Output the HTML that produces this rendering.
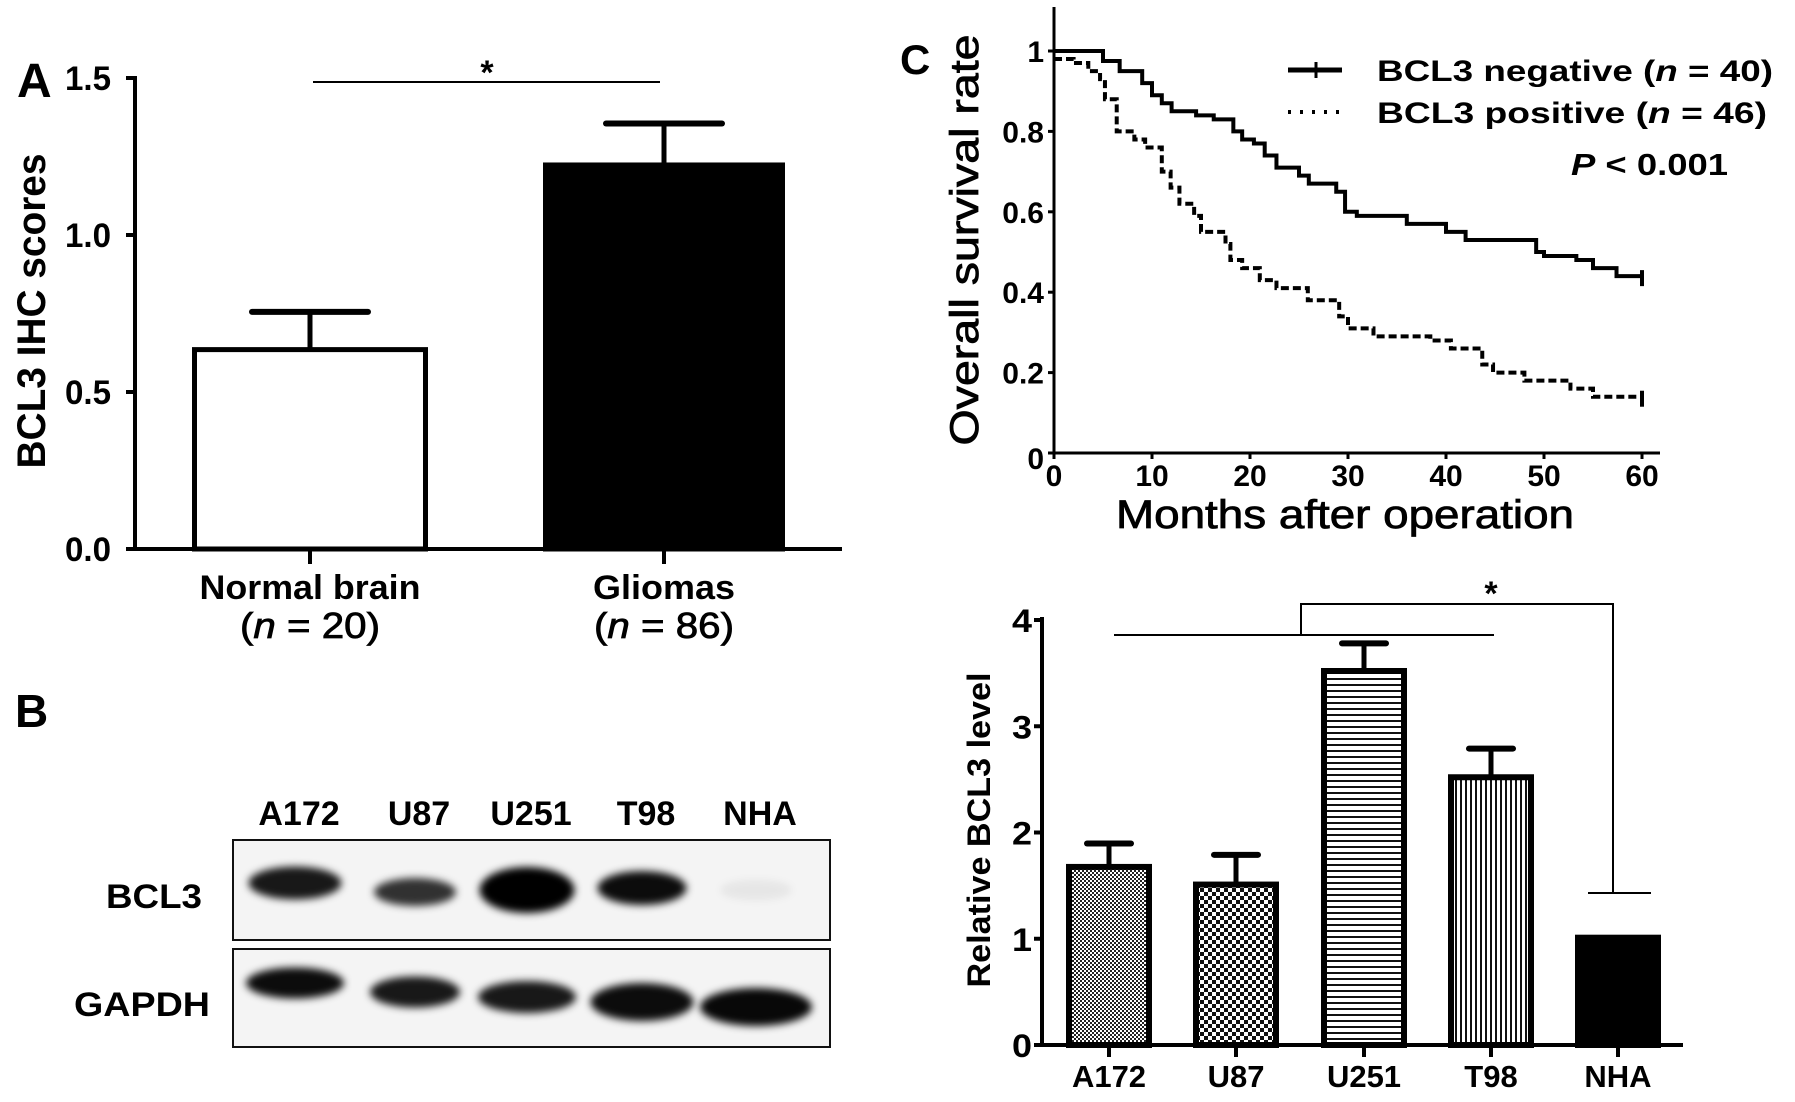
<!DOCTYPE html>
<html><head><meta charset="utf-8">
<style>
html,body{margin:0;padding:0;background:#fff;}
svg{display:block;font-family:"Liberation Sans",Arial,sans-serif;}
</style></head>
<body>
<svg id="fig" width="1795" height="1102" viewBox="0 0 1795 1102" xmlns="http://www.w3.org/2000/svg">
<defs>
<pattern id="pA" width="4" height="4" patternUnits="userSpaceOnUse"><rect width="4" height="4" fill="#fff"/><rect width="2" height="2" fill="#222"/><rect x="2" y="2" width="2" height="2" fill="#222"/></pattern>
<pattern id="pU" width="8" height="8" patternUnits="userSpaceOnUse"><rect width="8" height="8" fill="#fff"/><rect width="4" height="4" fill="#111"/><rect x="4" y="4" width="4" height="4" fill="#111"/></pattern>
<pattern id="pH" width="6" height="6" patternUnits="userSpaceOnUse"><rect width="6" height="6" fill="#fff"/><rect width="6" height="2" fill="#111"/></pattern>
<pattern id="pV" width="5" height="5" patternUnits="userSpaceOnUse"><rect width="5" height="5" fill="#fff"/><rect width="2" height="5" fill="#111"/></pattern>
<filter id="blur" x="-20%" y="-50%" width="140%" height="200%"><feGaussianBlur stdDeviation="4"/></filter>
</defs>
<g id="panelA"></g>
<g id="panelB"></g>
<g id="panelC"></g>
<g id="panelD"></g>
</svg>
<script>
// ---------- Panel A data ----------
const aCategories = ["Normal brain", "Gliomas"];
const aSubLabels = ["20", "86"];
const aValues = [0.635, 1.223];
const aErrors = [0.12, 0.132];
const aTicks = [0.0, 0.5, 1.0, 1.5];
const aTickLabels = ["0.0", "0.5", "1.0", "1.5"];

// ---------- Panel B data ----------
const bLanes = ["A172", "U87", "U251", "T98", "NHA"];
const bBcl3Intensity = [0.9, 0.8, 1.0, 0.95, 0.06];
const bGapdhIntensity = [0.95, 0.9, 0.9, 0.95, 0.97];

// ---------- Panel C data ----------
const cNegTimes = [0,5,6.7,9,10,11,12,14.5,16.3,18.3,19.2,20.4,21.5,22.7,25,26,28.8,29.7,30.9,36,40,42,49.2,50,53.3,55,57.4];
const cNegSurv  = [1,0.975,0.95,0.92,0.89,0.87,0.85,0.84,0.83,0.80,0.78,0.77,0.74,0.71,0.69,0.67,0.65,0.60,0.59,0.57,0.55,0.53,0.50,0.49,0.48,0.46,0.44];
const cPosTimes = [0,2,3.5,4.7,5.2,6.4,8.2,9.3,11,11.9,12.8,14.3,15,17.5,18,19.2,21,22.7,25.9,29.1,30,32.6,38.4,40.5,43.7,44.8,48,52.7,55];
const cPosSurv  = [0.98,0.97,0.95,0.93,0.88,0.80,0.78,0.76,0.70,0.66,0.62,0.59,0.55,0.52,0.48,0.46,0.43,0.41,0.38,0.34,0.31,0.29,0.28,0.26,0.22,0.20,0.18,0.16,0.14];
const cXTicks = [0,10,20,30,40,50,60];
const cYTicks = [0,0.2,0.4,0.6,0.8,1];
const cYTickLabels = ["0","0.2","0.4","0.6","0.8","1"];
const cEndMonths = 60;

// ---------- Panel D data ----------
const dCategories = ["A172","U87","U251","T98","NHA"];
const dValues = [1.676, 1.51, 3.52, 2.52, 1.01];
const dErrors = [0.22, 0.28, 0.26, 0.27, 0];
const dFills = ["url(#pA)","url(#pU)","url(#pH)","url(#pV)","#000"];
const dTicks = [0,1,2,3,4];

const NS = "http://www.w3.org/2000/svg";
function mk(parent, tag, attrs, text){
  const e = document.createElementNS(NS, tag);
  for (const k in attrs) e.setAttribute(k, attrs[k]);
  if (text !== undefined) e.textContent = text;
  parent.appendChild(e);
  return e;
}

// ================= Panel A =================
(function(){
  const g = document.getElementById('panelA');
  const x0 = 135, y0 = 549, pxPerUnit = 314;
  const yA = v => y0 - v * pxPerUnit;
  const barLeft = [192, 543], barW = [236, 242];
  let t = mk(g,'text',{x:17,y:97,'font-size':48,'font-weight':'bold'},'A');
   
  let l = mk(g,'line',{x1:x0,y1:yA(1.5)-2,x2:x0,y2:y0+2,stroke:'#000','stroke-width':4});
   
  l = mk(g,'line',{x1:x0-2,y1:y0,x2:842,y2:y0,stroke:'#000','stroke-width':4});
   
  aTicks.forEach((v,i)=>{
    const tk = mk(g,'line',{x1:x0-9,y1:yA(v),x2:x0,y2:yA(v),stroke:'#000','stroke-width':4});
     
    const tl = mk(g,'text',{x:111,y:yA(v)+12,'font-size':34,'font-weight':'bold','text-anchor':'end',textLength:46,lengthAdjust:'spacingAndGlyphs'},aTickLabels[i]);
     
  });
  t = mk(g,'text',{x:0,y:0,'font-size':40,'font-weight':'bold','text-anchor':'middle',transform:'translate(45,311) rotate(-90)',textLength:315,lengthAdjust:'spacingAndGlyphs'},'BCL3 IHC scores');
   
  aValues.forEach((v,i)=>{
    const cx = barLeft[i] + barW[i]/2;
    const eb = mk(g,'line',{x1:cx,y1:yA(v),x2:cx,y2:yA(v+aErrors[i]),stroke:'#000','stroke-width':5});
     
    const cap = mk(g,'line',{x1:cx-58,y1:yA(v+aErrors[i]),x2:cx+58,y2:yA(v+aErrors[i]),stroke:'#000','stroke-width':6,'stroke-linecap':'round'});
     
    const r = mk(g,'rect',{x:barLeft[i]+2.5,y:yA(v),width:barW[i]-5,height:y0-yA(v),fill:i===0?'#fff':'#000',stroke:'#000','stroke-width':5});
     
    const tk = mk(g,'line',{x1:cx,y1:y0,x2:cx,y2:564,stroke:'#000','stroke-width':4});
     
    const c1 = mk(g,'text',{x:cx,y:599,'font-size':34,'font-weight':'bold','text-anchor':'middle',textLength:i===0?221:142,lengthAdjust:'spacingAndGlyphs'},aCategories[i]);
     
    const c2 = mk(g,'text',{x:cx,y:638,'font-size':36,'font-weight':'normal','text-anchor':'middle',stroke:'#000','stroke-width':0.8,textLength:i===0?140:140,lengthAdjust:'spacingAndGlyphs'});
     
    c2.innerHTML = '(<tspan font-style="italic">n</tspan> = '+aSubLabels[i]+')';
  });
  l = mk(g,'line',{x1:313,y1:82,x2:660,y2:82,stroke:'#000','stroke-width':2});
   
  t = mk(g,'text',{x:487,y:84,'font-size':34,'font-weight':'bold','text-anchor':'middle'},'*');
   
})();

// ================= Panel B =================
(function(){
  const g = document.getElementById('panelB');
  const laneX = [299, 419, 531, 646, 760];
  const bclW = [93, 82, 95, 89, 71], bclH = [27, 22, 40, 28, 14], bclY = [883, 892, 890, 888, 890];
  const gW = [98, 90, 98, 103, 112], gH = [25, 25, 26, 32, 32], gY = [983, 992, 997, 1002, 1007];
  let t = mk(g,'text',{x:15,y:727,'font-size':46,'font-weight':'bold'},'B');
   
  bLanes.forEach((n,i)=>{
    const tl = mk(g,'text',{x:laneX[i],y:825,'font-size':34,'font-weight':'bold','text-anchor':'middle'},n);
     
  });
  let r = mk(g,'rect',{x:233,y:840,width:597,height:100,fill:'#f4f4f4',stroke:'#111','stroke-width':2});
   
  r = mk(g,'rect',{x:233,y:949,width:597,height:98,fill:'#f4f4f4',stroke:'#111','stroke-width':2});
   
  bLanes.forEach((n,i)=>{
    const e = mk(g,'ellipse',{cx:laneX[i]-4,cy:bclY[i],rx:bclW[i]/2,ry:bclH[i]/2+3,fill:'#000','fill-opacity':bBcl3Intensity[i],filter:'url(#blur)'});
     
    const e2 = mk(g,'ellipse',{cx:laneX[i]-4,cy:gY[i],rx:gW[i]/2,ry:gH[i]/2+3,fill:'#000','fill-opacity':bGapdhIntensity[i],filter:'url(#blur)'});
     
  });
  t = mk(g,'text',{x:202,y:908,'font-size':34,'font-weight':'bold','text-anchor':'end',textLength:96,lengthAdjust:'spacingAndGlyphs'},'BCL3');
   
  t = mk(g,'text',{x:210,y:1016,'font-size':34,'font-weight':'bold','text-anchor':'end',textLength:136,lengthAdjust:'spacingAndGlyphs'},'GAPDH');
   
})();

// ================= Panel C =================
(function(){
  const g = document.getElementById('panelC');
  const x0 = 1054, y0 = 453;
  const xC = m => x0 + m * (1642 - 1054) / 60;
  const yC = s => y0 - s * (453 - 51);
  let t = mk(g,'text',{x:900,y:74,'font-size':42,'font-weight':'bold'},'C');
   
  let l = mk(g,'line',{x1:x0,y1:7,x2:x0,y2:y0+2,stroke:'#000','stroke-width':3});
   
  l = mk(g,'line',{x1:x0-2,y1:y0,x2:1660,y2:y0,stroke:'#000','stroke-width':3});
   
  cYTicks.forEach((v,i)=>{
    const tk = mk(g,'line',{x1:x0-6,y1:yC(v),x2:x0,y2:yC(v),stroke:'#000','stroke-width':3});
     
    const tl = mk(g,'text',{x:1044,y:yC(v)+(i===0?16:11),'font-size':30,'font-weight':'bold','text-anchor':'end'},cYTickLabels[i]);
     
  });
  cXTicks.forEach(v=>{
    const tk = mk(g,'line',{x1:xC(v),y1:y0,x2:xC(v),y2:y0+6,stroke:'#000','stroke-width':3});
     
    const tl = mk(g,'text',{x:xC(v),y:486,'font-size':30,'font-weight':'bold','text-anchor':'middle'},String(v));
     
  });
  t = mk(g,'text',{x:1345,y:528,'font-size':40,'text-anchor':'middle',textLength:458,lengthAdjust:'spacingAndGlyphs','stroke':'#000','stroke-width':0.8},'Months after operation');
   
  t = mk(g,'text',{x:0,y:0,'font-size':40,'text-anchor':'middle',transform:'translate(978,240) rotate(-90)',textLength:411,lengthAdjust:'spacingAndGlyphs','stroke':'#000','stroke-width':0.8},'Overall survival rate');
   
  function stepPath(times, surv){
    let d = 'M'+xC(times[0])+','+yC(surv[0]);
    for (let i=1;i<times.length;i++){
      d += ' H'+xC(times[i])+' V'+yC(surv[i]);
    }
    d += ' H'+xC(cEndMonths);
    return d;
  }
  let p = mk(g,'path',{d:stepPath(cNegTimes,cNegSurv),fill:'none',stroke:'#000','stroke-width':4});
   
  let e = mk(g,'line',{x1:xC(cEndMonths),y1:yC(cNegSurv[cNegSurv.length-1])-6,x2:xC(cEndMonths),y2:yC(cNegSurv[cNegSurv.length-1])+10,stroke:'#000','stroke-width':4});
   
  p = mk(g,'path',{d:stepPath(cPosTimes,cPosSurv),fill:'none',stroke:'#000','stroke-width':4,'stroke-dasharray':'8 4'});
   
  e = mk(g,'line',{x1:xC(cEndMonths),y1:yC(cPosSurv[cPosSurv.length-1])-6,x2:xC(cEndMonths),y2:yC(cPosSurv[cPosSurv.length-1])+10,stroke:'#000','stroke-width':4});
   
  l = mk(g,'line',{x1:1288,y1:70,x2:1342,y2:70,stroke:'#000','stroke-width':5});
   
  l = mk(g,'line',{x1:1316,y1:62,x2:1316,y2:78,stroke:'#000','stroke-width':3});
   
  l = mk(g,'line',{x1:1288,y1:112,x2:1342,y2:112,stroke:'#000','stroke-width':4,'stroke-dasharray':'3 9'});
   
  t = mk(g,'text',{x:1377,y:81,'font-size':30,'font-weight':'bold',textLength:396,lengthAdjust:'spacingAndGlyphs'});
   
  t.innerHTML = 'BCL3 negative (<tspan font-style="italic">n</tspan> = 40)';
  t = mk(g,'text',{x:1377,y:123,'font-size':30,'font-weight':'bold',textLength:390,lengthAdjust:'spacingAndGlyphs'});
   
  t.innerHTML = 'BCL3 positive (<tspan font-style="italic">n</tspan> = 46)';
  t = mk(g,'text',{x:1571,y:175,'font-size':31,'font-weight':'bold',textLength:157,lengthAdjust:'spacingAndGlyphs'});
   
  t.innerHTML = '<tspan font-style="italic">P</tspan> &lt; 0.001';
})();

// ================= Panel D =================
(function(){
  const g = document.getElementById('panelD');
  const x0 = 1042, y0 = 1045;
  const yD = v => y0 - v * (1045 - 620) / 4;
  const barLeft = [1066, 1193, 1321, 1448, 1575], bw = 86;
  let l = mk(g,'line',{x1:x0,y1:yD(4)-3,x2:x0,y2:y0+2,stroke:'#000','stroke-width':4});
   
  l = mk(g,'line',{x1:x0-7,y1:y0,x2:1683,y2:y0,stroke:'#000','stroke-width':4});
   
  dTicks.forEach(v=>{
    const tk = mk(g,'line',{x1:x0-8,y1:yD(v),x2:x0,y2:yD(v),stroke:'#000','stroke-width':4});
     
    const tl = mk(g,'text',{x:1032,y:yD(v)+12,'font-size':32,'font-weight':'bold','text-anchor':'end',textLength:20,lengthAdjust:'spacingAndGlyphs'},String(v));
     
  });
  let t = mk(g,'text',{x:0,y:0,'font-size':32,'font-weight':'bold','text-anchor':'middle',transform:'translate(990,830) rotate(-90)',textLength:315,lengthAdjust:'spacingAndGlyphs'},'Relative BCL3 level');
   
  dValues.forEach((v,i)=>{
    const cx = barLeft[i] + bw/2;
    if (dErrors[i] > 0){
      const eb = mk(g,'line',{x1:cx,y1:yD(v),x2:cx,y2:yD(v+dErrors[i]),stroke:'#000','stroke-width':5});
       
      const cap = mk(g,'line',{x1:cx-22,y1:yD(v+dErrors[i]),x2:cx+22,y2:yD(v+dErrors[i]),stroke:'#000','stroke-width':6,'stroke-linecap':'round'});
       
    }
    const r = mk(g,'rect',{x:barLeft[i]+3,y:yD(v),width:bw-6,height:y0-yD(v),fill:dFills[i],stroke:'#000','stroke-width':6});
     
    const tk = mk(g,'line',{x1:cx,y1:y0,x2:cx,y2:1057,stroke:'#000','stroke-width':4});
     
    const tl = mk(g,'text',{x:cx,y:1087,'font-size':31,'font-weight':'bold','text-anchor':'middle'},dCategories[i]);
     
  });
  l = mk(g,'line',{x1:1114,y1:635,x2:1494,y2:635,stroke:'#000','stroke-width':2});
   
  const br = mk(g,'path',{d:'M1301,635 V604 H1613 V893 M1588,893 H1651',fill:'none',stroke:'#000','stroke-width':2});
   
  t = mk(g,'text',{x:1491,y:605,'font-size':34,'font-weight':'bold','text-anchor':'middle'},'*');
   
})();
</script>
</body></html>
